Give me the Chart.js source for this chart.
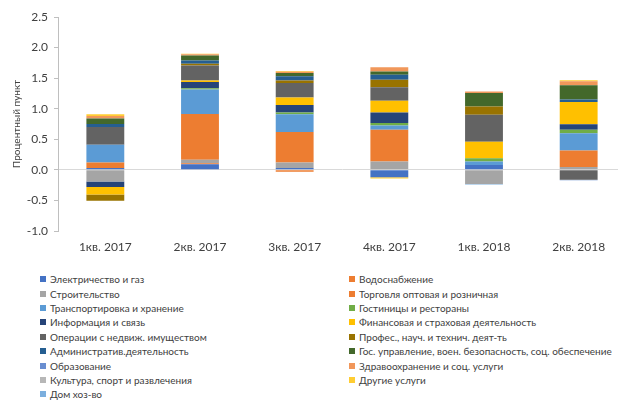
<!DOCTYPE html>
<html>
<head>
<meta charset="utf-8">
<script src="https://cdn.jsdelivr.net/npm/chart.js@4.4.1/dist/chart.umd.min.js"></script>
<style>
    html, body { margin: 0; padding: 0; background: #ffffff; overflow: hidden; }
    body { width: 618px; height: 402px; position: relative; font-family: Lato, 'Liberation Sans', sans-serif; }
    #caixa { position: absolute; left: 0; top: 0; width: 626px; height: 258px; }
    #legenda {
        position: absolute; left: 40px; top: 272px;
        display: grid; grid-template-columns: 309px auto;
        grid-auto-rows: 14.4px;
        font-size: 10px; color: #404040;
    }
    .item { display: flex; align-items: center; white-space: nowrap; }
    .quadrado { width: 6px; height: 6px; margin-right: 4px; flex: none; }
</style>
</head>
<body>
<div id="caixa"><canvas id="graficoBarras" width="626" height="258"></canvas></div>
<div id="legenda"></div>
<script>
var trimestres = ['1кв. 2017', '2кв. 2017', '3кв. 2017', '4кв. 2017', '1кв. 2018', '2кв. 2018'];

var eletricidade   = [0.03, 0.09, 0.03, -0.12, 0.08, 0];
var agua           = [0, 0.02, -0.03, 0, 0, 0];
var construcao     = [-0.19, 0.055, 0.09, 0.135, -0.23, 0.045];
var comercio       = [0.09, 0.75, 0.50, 0.52, 0, 0.27];
var transporte     = [0.29, 0.40, 0.29, 0.07, 0.055, 0.285];
var hotelaria      = [0, 0.02, 0.03, 0.04, 0.055, 0.055];
var informacao     = [-0.09, 0.10, 0.12, 0.175, 0, 0.09];
var financas       = [-0.125, 0.025, 0.125, 0.19, 0.27, 0.365];
var imoveis        = [0.29, 0.245, 0.235, 0.22, 0.44, -0.16];
var profissionais  = [-0.1, 0.03, 0.04, 0.125, 0.135, 0];
var administrativo = [0.05, 0.055, 0.07, 0.08, 0, 0.04];
var governo        = [0.09, 0.08, 0.055, 0.055, 0.22, 0.235];
var educacao       = [0, 0, 0, 0, 0, -0.01];
var saude          = [0.04, 0.02, 0.02, 0.07, 0.025, 0.065];
var cultura        = [0, 0, 0, 0, 0, 0];
var outros         = [0.03, 0.01, 0.01, -0.02, 0, 0.015];
var domesticos     = [0, 0, 0, 0, -0.01, 0];

var nomes = [
    'Электричество и газ', 'Водоснабжение', 'Строительство', 'Торговля оптовая и розничная',
    'Транспортировка и хранение', 'Гостиницы и рестораны', 'Информация и связь',
    'Финансовая и страховая деятельность', 'Операции с недвиж. имуществом',
    'Профес., науч. и технич. деят-ть', 'Административ.деятельность',
    'Гос. управление, воен. безопасность, соц. обеспечение', 'Образование',
    'Здравоохранение и соц. услуги', 'Культура, спорт и развлечения', 'Другие услуги', 'Дом хоз-во'
];

var valores = [eletricidade, agua, construcao, comercio, transporte, hotelaria, informacao,
    financas, imoveis, profissionais, administrativo, governo, educacao, saude, cultura, outros, domesticos];

var cores = ['#4472C4', '#ED7D31', '#A5A5A5', '#ED7D31', '#5B9BD5', '#70AD47', '#264478',
    '#FFC000', '#636363', '#997300', '#255E91', '#43682B', '#698ED0', '#F1975A', '#B7B7B7', '#FFCD33', '#7CAFDD'];

var conjuntos = nomes.map(function (nome, i) {
    return {
        label: nome,
        data: valores[i],
        backgroundColor: cores[i],
        borderWidth: 0,
        categoryPercentage: 1.0,
        barPercentage: 0.4
    };
});

var fonte = "Lato, 'Liberation Sans', sans-serif";

var grafico = new Chart(document.getElementById('graficoBarras').getContext('2d'), {
    type: 'bar',
    data: { labels: trimestres, datasets: conjuntos },
    options: {
        responsive: false,
        animation: false,
        devicePixelRatio: 1,
        layout: { padding: { top: 17, left: 0, right: 0, bottom: 0 } },
        plugins: { legend: { display: false }, tooltip: { enabled: false } },
        scales: {
            x: {
                stacked: true,
                grid: { display: false, drawTicks: false },
                border: { display: false },
                ticks: { color: '#404040', font: { size: 12, family: fonte }, padding: 9, maxRotation: 0 },
                afterFit: function (s) { s.height = 27; }
            },
            y: {
                stacked: true,
                min: -1,
                max: 2.5,
                ticks: {
                    stepSize: 0.5,
                    color: '#404040',
                    font: { size: 12, family: fonte },
                    padding: 6,
                    callback: function (v) { return v.toFixed(1); }
                },
                grid: {
                    color: function (c) { return c.tick && c.tick.value === 0 ? '#D9D9D9' : 'rgba(0,0,0,0)'; },
                    tickColor: '#BFBFBF',
                    tickLength: 4,
                    lineWidth: 1
                },
                border: { display: true, color: '#BFBFBF' },
                title: {
                    display: true,
                    text: 'Процентный пункт',
                    color: '#404040',
                    font: { size: 10, family: fonte },
                    padding: { top: 11, bottom: 0 }
                },
                afterFit: function (s) { s.width = 58; }
            }
        }
    }
});

var legenda = document.getElementById('legenda');
grafico.data.datasets.forEach(function (d) {
    var item = document.createElement('div');
    item.className = 'item';
    var q = document.createElement('span');
    q.className = 'quadrado';
    q.style.background = d.backgroundColor;
    var t = document.createElement('span');
    t.textContent = d.label;
    item.appendChild(q);
    item.appendChild(t);
    legenda.appendChild(item);
});
</script>
</body>
</html>
